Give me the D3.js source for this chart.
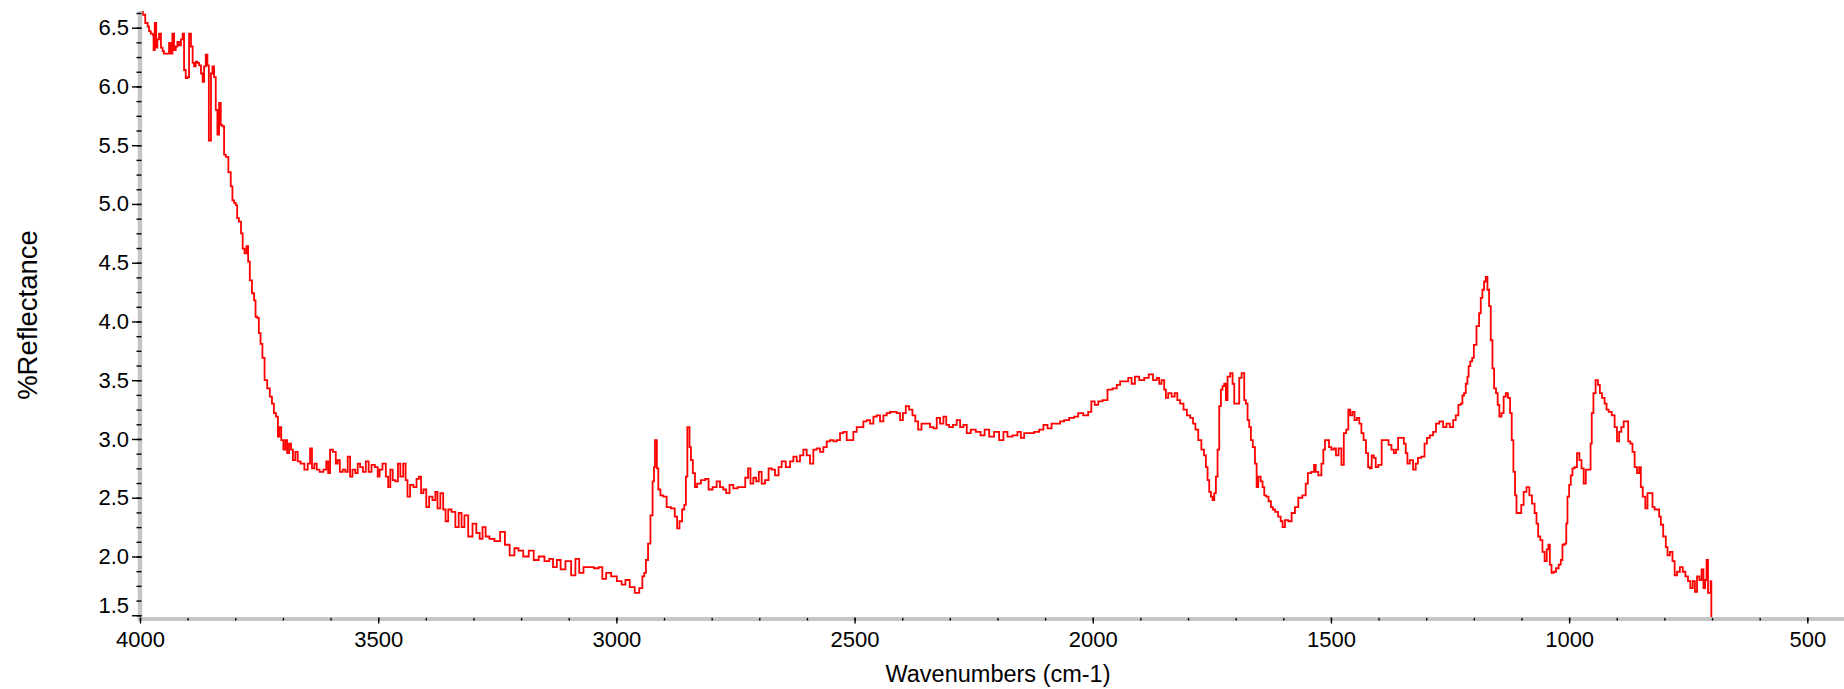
<!DOCTYPE html>
<html><head><meta charset="utf-8">
<script src="https://cdn.jsdelivr.net/npm/d3@7"></script>
<style>
html,body{margin:0;padding:0;background:#fff;}
svg{display:block;font-family:"Liberation Sans",Arial,sans-serif;}
</style></head>
<body><svg id="chart" width="1844" height="689"></svg>
<script>
// [wavenumber (cm-1), %Reflectance]
const spectrum = [
[4000,6.66],[3996,6.64],[3992,6.61],[3986,6.54],[3982,6.51],[3980,6.47],[3975,6.45],[3972,6.44],[3971,6.31],[3967,6.54],
[3965,6.33],[3962,6.40],[3958,6.45],[3954,6.33],[3951,6.30],[3948,6.28],[3944,6.28],[3941,6.28],[3937,6.37],[3934,6.28],
[3930,6.45],[3927,6.31],[3923,6.34],[3920,6.38],[3916,6.35],[3912,6.40],[3909,6.45],[3906,6.14],[3902,6.07],[3899,6.08],
[3895,6.45],[3891,6.34],[3888,6.20],[3885,6.17],[3881,6.21],[3878,6.20],[3874,6.18],[3870,6.11],[3867,6.04],[3864,6.17],
[3860,6.27],[3857,6.18],[3854,5.54],[3852,5.54],[3850,6.11],[3846,6.17],[3843,6.08],[3839,5.80],[3836,5.59],[3832,5.86],
[3829,5.67],[3825,5.66],[3822,5.42],[3818,5.40],[3811,5.27],[3808,5.15],[3804,5.03],[3801,5.01],[3797,4.99],[3795,4.88],
[3790,4.85],[3786,4.75],[3783,4.62],[3778,4.58],[3775,4.64],[3771,4.51],[3768,4.35],[3762,4.24],[3759,4.18],[3756,4.04],
[3752,4.03],[3749,3.90],[3745,3.81],[3741,3.69],[3736,3.50],[3730,3.43],[3725,3.36],[3721,3.30],[3717,3.22],[3712,3.19],
[3709,3.02],[3706,3.10],[3701,2.99],[3697,2.91],[3693,2.99],[3689,2.88],[3685,2.96],[3681,2.91],[3677,2.82],[3671,2.89],
[3667,2.81],[3659,2.79],[3651,2.74],[3645,2.79],[3641,2.92],[3637,2.75],[3631,2.79],[3627,2.74],[3619,2.72],[3611,2.74],
[3607,2.81],[3603,2.71],[3599,2.91],[3591,2.89],[3587,2.79],[3583,2.82],[3578,2.72],[3571,2.74],[3567,2.72],[3561,2.85],
[3557,2.68],[3551,2.74],[3545,2.71],[3541,2.79],[3535,2.76],[3529,2.72],[3523,2.81],[3517,2.72],[3511,2.78],[3503,2.76],
[3499,2.68],[3495,2.74],[3487,2.79],[3481,2.68],[3477,2.59],[3472,2.74],[3467,2.65],[3461,2.64],[3456,2.79],[3451,2.68],
[3444,2.79],[3441,2.65],[3436,2.51],[3430,2.61],[3422,2.59],[3417,2.66],[3412,2.68],[3408,2.54],[3402,2.57],[3396,2.42],
[3390,2.51],[3382,2.48],[3378,2.55],[3373,2.41],[3366,2.54],[3361,2.40],[3356,2.30],[3350,2.40],[3342,2.38],[3334,2.25],
[3328,2.37],[3322,2.25],[3316,2.35],[3306,2.17],[3298,2.28],[3290,2.20],[3284,2.15],[3278,2.25],[3271,2.17],[3262,2.15],
[3250,2.13],[3238,2.21],[3230,2.10],[3218,2.01],[3210,2.07],[3201,2.05],[3190,2.00],[3178,2.05],[3169,1.97],[3157,2.00],
[3145,1.96],[3137,1.98],[3129,1.91],[3121,1.97],[3113,1.89],[3101,1.96],[3089,1.84],[3083,1.98],[3073,1.86],[3065,1.91],
[3053,1.91],[3041,1.90],[3033,1.91],[3026,1.81],[3017,1.86],[3005,1.83],[2993,1.79],[2985,1.76],[2977,1.80],[2967,1.74],
[2956,1.69],[2948,1.73],[2943,1.83],[2940,1.86],[2936,1.97],[2931,2.11],[2926,2.35],[2922,2.64],[2920,2.76],[2918,2.99],
[2916,2.99],[2914,2.75],[2910,2.57],[2905,2.52],[2898,2.51],[2891,2.42],[2880,2.41],[2875,2.34],[2870,2.24],[2865,2.30],
[2859,2.40],[2856,2.44],[2852,2.68],[2850,3.10],[2848,3.10],[2845,2.93],[2842,2.82],[2837,2.71],[2833,2.59],[2828,2.62],
[2817,2.65],[2810,2.66],[2803,2.57],[2793,2.59],[2786,2.64],[2779,2.59],[2772,2.57],[2767,2.54],[2758,2.61],[2751,2.58],
[2740,2.59],[2733,2.59],[2726,2.67],[2721,2.75],[2716,2.62],[2709,2.67],[2704,2.64],[2698,2.72],[2692,2.62],[2684,2.65],
[2677,2.75],[2671,2.74],[2663,2.69],[2656,2.76],[2650,2.81],[2639,2.76],[2632,2.81],[2625,2.85],[2618,2.81],[2611,2.86],
[2604,2.91],[2597,2.86],[2590,2.79],[2583,2.91],[2576,2.92],[2569,2.89],[2562,2.93],[2555,2.98],[2548,2.99],[2541,2.98],
[2534,2.99],[2527,3.05],[2520,3.06],[2513,2.99],[2506,2.99],[2499,3.06],[2492,3.10],[2485,3.10],[2478,3.15],[2471,3.16],
[2464,3.13],[2457,3.19],[2450,3.20],[2443,3.15],[2436,3.20],[2429,3.22],[2422,3.23],[2415,3.23],[2408,3.22],[2401,3.16],
[2396,3.22],[2389,3.28],[2382,3.25],[2375,3.20],[2370,3.15],[2363,3.08],[2356,3.13],[2345,3.13],[2338,3.10],[2331,3.09],
[2324,3.18],[2317,3.13],[2310,3.19],[2305,3.12],[2298,3.10],[2289,3.12],[2282,3.16],[2275,3.10],[2268,3.12],[2261,3.05],
[2251,3.08],[2240,3.06],[2231,3.03],[2223,3.08],[2212,3.02],[2202,3.06],[2191,2.99],[2184,3.06],[2174,3.02],[2163,3.03],
[2153,3.06],[2149,3.01],[2139,3.05],[2128,3.05],[2118,3.06],[2107,3.08],[2100,3.12],[2090,3.09],[2083,3.13],[2072,3.13],
[2065,3.15],[2055,3.16],[2044,3.18],[2034,3.19],[2027,3.22],[2013,3.20],[2006,3.23],[2000,3.32],[1992,3.29],[1985,3.32],
[1974,3.33],[1964,3.42],[1953,3.43],[1946,3.46],[1939,3.49],[1929,3.49],[1922,3.52],[1915,3.47],[1908,3.53],[1897,3.50],
[1887,3.52],[1878,3.55],[1869,3.50],[1862,3.52],[1859,3.47],[1852,3.50],[1848,3.42],[1845,3.35],[1838,3.39],[1831,3.36],
[1825,3.39],[1820,3.33],[1813,3.30],[1806,3.25],[1799,3.20],[1792,3.18],[1787,3.13],[1782,3.08],[1775,2.99],[1769,2.91],
[1764,2.86],[1761,2.76],[1757,2.65],[1754,2.55],[1750,2.51],[1747,2.48],[1743,2.54],[1740,2.68],[1736,2.91],[1733,3.28],
[1729,3.42],[1726,3.45],[1722,3.47],[1719,3.33],[1715,3.53],[1708,3.56],[1705,3.47],[1701,3.30],[1694,3.30],[1691,3.52],
[1684,3.56],[1680,3.33],[1677,3.30],[1673,3.16],[1670,3.10],[1666,2.99],[1662,2.93],[1657,2.79],[1655,2.59],[1650,2.68],
[1645,2.64],[1642,2.59],[1638,2.52],[1634,2.51],[1628,2.47],[1624,2.42],[1620,2.40],[1614,2.38],[1608,2.34],[1603,2.30],
[1600,2.25],[1593,2.31],[1586,2.30],[1579,2.37],[1572,2.42],[1565,2.50],[1555,2.52],[1551,2.62],[1546,2.71],[1537,2.72],
[1534,2.78],[1530,2.72],[1523,2.69],[1517,2.79],[1515,2.91],[1510,2.99],[1506,2.99],[1502,2.93],[1496,2.91],[1492,2.92],
[1487,2.86],[1481,2.92],[1475,2.78],[1471,3.05],[1465,3.08],[1462,3.25],[1457,3.20],[1453,3.23],[1448,3.16],[1443,3.18],
[1438,3.13],[1434,3.05],[1429,2.99],[1424,2.88],[1420,2.76],[1417,2.75],[1412,2.86],[1408,2.84],[1404,2.76],[1397,2.78],
[1390,2.99],[1382,2.99],[1376,2.95],[1370,2.91],[1366,2.88],[1361,2.91],[1357,3.01],[1349,3.01],[1345,2.96],[1341,2.88],
[1338,2.79],[1331,2.82],[1324,2.74],[1320,2.79],[1315,2.84],[1306,2.85],[1301,2.96],[1296,3.01],[1289,3.03],[1282,3.06],
[1277,3.13],[1268,3.15],[1261,3.10],[1254,3.13],[1247,3.10],[1240,3.16],[1236,3.20],[1229,3.29],[1226,3.30],[1222,3.37],
[1219,3.39],[1215,3.47],[1212,3.53],[1210,3.62],[1205,3.66],[1202,3.69],[1198,3.80],[1191,3.96],[1187,4.07],[1184,4.20],
[1180,4.27],[1177,4.34],[1173,4.38],[1170,4.27],[1166,4.13],[1163,3.84],[1159,3.60],[1156,3.43],[1151,3.39],[1149,3.29],
[1144,3.19],[1140,3.22],[1135,3.36],[1131,3.39],[1126,3.35],[1122,3.22],[1119,2.99],[1115,2.72],[1112,2.52],[1109,2.37],
[1103,2.37],[1098,2.44],[1093,2.55],[1086,2.59],[1081,2.52],[1075,2.45],[1070,2.37],[1067,2.28],[1063,2.17],[1058,2.14],
[1054,2.04],[1049,1.96],[1045,2.06],[1042,2.10],[1039,1.93],[1035,1.86],[1030,1.87],[1025,1.90],[1019,1.93],[1016,1.97],
[1012,2.10],[1007,2.11],[1005,2.28],[1002,2.51],[998,2.61],[995,2.69],[991,2.75],[986,2.76],[981,2.88],[976,2.82],
[972,2.75],[967,2.62],[963,2.74],[956,2.74],[954,2.96],[951,3.22],[947,3.39],[942,3.50],[937,3.46],[934,3.39],
[928,3.35],[923,3.30],[920,3.25],[914,3.23],[907,3.20],[902,3.10],[897,2.98],[893,3.06],[888,3.10],[883,3.15],
[878,3.15],[874,2.98],[869,2.96],[865,2.89],[860,2.76],[855,2.71],[851,2.76],[848,2.59],[843,2.51],[837,2.41],
[834,2.54],[827,2.54],[823,2.42],[818,2.40],[813,2.40],[809,2.34],[806,2.27],[799,2.17],[795,2.08],[792,2.01],
[785,2.04],[781,1.96],[776,1.84],[771,1.87],[764,1.91],[759,1.87],[753,1.83],[748,1.79],[743,1.73],[738,1.79],
[734,1.70],[729,1.83],[724,1.80],[720,1.89],[716,1.73],[713,1.80],[710,1.97],[707,1.69],[704,1.69],[702,1.79],
[701,1.40]
];

const xMajorTicks = [4000, 3500, 3000, 2500, 2000, 1500, 1000, 500];
const xTickLabels = ["4000", "3500", "3000", "2500", "2000", "1500", "1000", "500"];
const yMajorTicks = [1.5, 2.0, 2.5, 3.0, 3.5, 4.0, 4.5, 5.0, 5.5, 6.0, 6.5];
const yTickLabels = ["1.5", "2.0", "2.5", "3.0", "3.5", "4.0", "4.5", "5.0", "5.5", "6.0", "6.5"];
const xMinorStep = 100;
const yMinorStep = 0.125;
const xDomain = [4000, 423];
const yDomain = [1.468, 6.642];
const xTitle = "Wavenumbers (cm-1)";
const yTitle = "%Reflectance";

const plotLeft = 140, plotRight = 1844, plotTop = 11, plotBottom = 619;
const x = d3.scaleLinear().domain(xDomain).range([plotLeft, plotRight]);
const y = d3.scaleLinear().domain(yDomain).range([plotBottom, plotTop]);
const svg = d3.select('#chart');

svg.append('defs').append('clipPath').attr('id', 'plot')
  .append('rect').attr('x', plotLeft).attr('y', plotTop)
  .attr('width', plotRight - plotLeft).attr('height', plotBottom - plotTop);

// spectrum
const line = d3.line().x(d => x(d[0])).y(d => y(d[1])).curve(d3.curveStep);
svg.append('path').datum(spectrum)
  .attr('clip-path', 'url(#plot)')
  .attr('fill', 'none').attr('stroke', '#ff0000').attr('stroke-width', 1.8)
  .attr('d', line);

// gray axis bands
const axisGray = '#c6c6c6';
svg.append('line').attr('x1', plotLeft).attr('x2', plotLeft).attr('y1', plotTop).attr('y2', plotBottom + 2.3)
  .attr('stroke', axisGray).attr('stroke-width', 4.5);
svg.append('line').attr('x1', plotLeft - 2.3).attr('x2', plotRight).attr('y1', plotBottom).attr('y2', plotBottom)
  .attr('stroke', axisGray).attr('stroke-width', 4);

// minor ticks
const xMinor = d3.range(xMajorTicks[0], x.invert(plotRight), -xMinorStep);
const yMinor = d3.range(yMajorTicks[0], yDomain[1], yMinorStep);

const gxMinor = svg.append('g').attr('transform', `translate(0,${plotBottom - 1})`)
  .call(d3.axisBottom(x).tickValues(xMinor).tickSize(2.5).tickFormat(''));
gxMinor.select('.domain').remove();

const gyMinor = svg.append('g').attr('transform', `translate(${plotLeft + 1.5},0)`)
  .call(d3.axisLeft(y).tickValues(yMinor).tickSize(5).tickFormat(''));
gyMinor.select('.domain').remove();

// major ticks + labels
const gx = svg.append('g').attr('transform', `translate(0,${plotBottom - 1.5})`)
  .call(d3.axisBottom(x).tickValues(xMajorTicks).tickSize(6).tickPadding(8)
    .tickFormat((d, i) => xTickLabels[i]));
gx.select('.domain').remove();

const gy = svg.append('g').attr('transform', `translate(${plotLeft + 1.5},0)`)
  .call(d3.axisLeft(y).tickValues(yMajorTicks).tickSize(9.5).tickPadding(3)
    .tickFormat((d, i) => yTickLabels[i]));
gy.select('.domain').remove();

svg.selectAll('.tick line').attr('stroke', '#000').attr('stroke-width', 1.4);
svg.selectAll('.tick text').attr('fill', '#000').attr('font-size', 22)
  .attr('font-family', '"Liberation Sans", Arial, sans-serif');
// keep the lowest y label inside the plot, as in the reference
gy.selectAll('.tick text').attr('y', d => Math.min(0, (plotBottom - 14) - y(d)));

// titles
svg.append('text').attr('x', 998).attr('y', 682).attr('text-anchor', 'middle')
  .attr('font-size', 23.5).attr('fill', '#000').text(xTitle);
svg.append('text').attr('transform', 'translate(37,315) rotate(-90)').attr('text-anchor', 'middle')
  .attr('font-size', 27.5).attr('fill', '#000').text(yTitle);
</script>
</body></html>
